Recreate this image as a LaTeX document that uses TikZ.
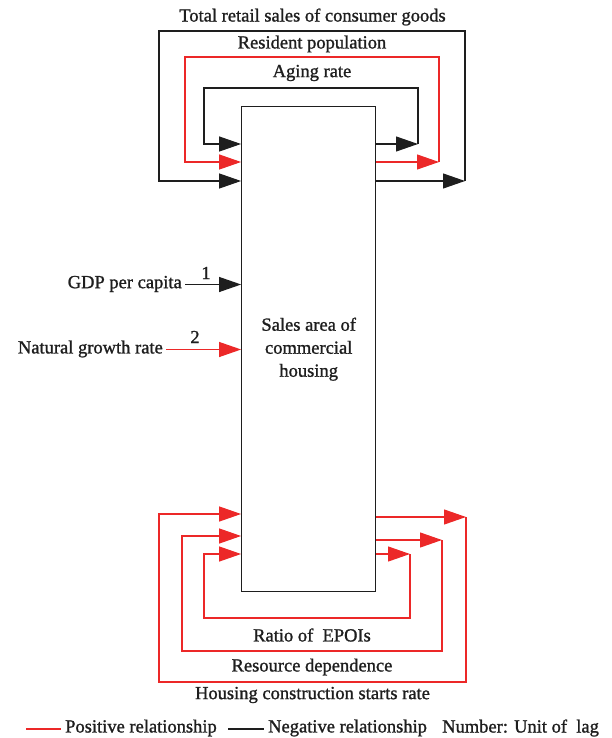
\documentclass[tikz,border=0pt]{standalone}
\usepackage{fontspec}
\setmainfont{Liberation Serif}[FakeBold=1.2]
\usetikzlibrary{arrows.meta}
\definecolor{posred}{RGB}{236,40,40}
\definecolor{negblk}{RGB}{30,30,30}
\begin{document}
\begin{tikzpicture}[x=1pt,y=-1pt,
  posln/.style={draw=posred,line width=1.1pt},
  negln/.style={draw=negblk,line width=1.1pt},
  tipr/.style={-{Triangle[length=22pt,width=15pt,fill=posred]}},
  tipb/.style={-{Triangle[length=22pt,width=15pt,fill=negblk]}},
  lbl/.style={font=\fontsize{18.5}{23}\selectfont,inner sep=0pt,text=negblk}]
\useasboundingbox (0,0) rectangle (612,738);
% central box
\node[draw=negblk,line width=1.2pt,minimum width=134pt,minimum height=485pt,align=center,lbl] (box) at (308.7,349.2) {Sales area of\\commercial\\housing};

% ---------- top loops ----------
\coordinate (tOR) at (465,181); \coordinate (tOL) at (159,181);
\coordinate (tOTR) at (465,31); \coordinate (tOTL) at (159,31);
\coordinate (tMR) at (439,162); \coordinate (tML) at (185,162);
\coordinate (tMTR) at (439,57); \coordinate (tMTL) at (185,57);
\coordinate (tIR) at (418,144); \coordinate (tIL) at (204,144);
\coordinate (tITR) at (418,88); \coordinate (tITL) at (204,88);

\draw[negln,tipb] (box.east |- tOR) -- (tOR);
\draw[negln,tipb] (tOR) -- (tOTR) -- (tOTL) -- (tOL) -- (box.west |- tOL);
\draw[posln,tipr] (box.east |- tMR) -- (tMR);
\draw[posln,tipr] (tMR) -- (tMTR) -- (tMTL) -- (tML) -- (box.west |- tML);
\draw[negln,tipb] (box.east |- tIR) -- (tIR);
\draw[negln,tipb] (tIR) -- (tITR) -- (tITL) -- (tIL) -- (box.west |- tIL);

\node[lbl] (ltot) at (312.5,17) {Total retail sales of consumer goods};
\node[lbl] (lres) at (312,44) {Resident population};
\node[lbl] (lage) at (312,73) {Aging rate};

% ---------- bottom loops ----------
\coordinate (bOR) at (466,517); \coordinate (bOL) at (159,514);
\coordinate (bOBR) at (466,682); \coordinate (bOBL) at (159,682);
\coordinate (bMR) at (442,540); \coordinate (bML) at (182,536);
\coordinate (bMBR) at (442,651); \coordinate (bMBL) at (182,651);
\coordinate (bIR) at (410,554); \coordinate (bIL) at (204,554);
\coordinate (bIBR) at (410,618); \coordinate (bIBL) at (204,618);

\draw[posln,tipr] (box.east |- bOR) -- (bOR);
\draw[posln,tipr] (bOR) -- (bOBR) -- (bOBL) -- (bOL) -- (box.west |- bOL);
\draw[posln,tipr] (box.east |- bMR) -- (bMR);
\draw[posln,tipr] (bMR) -- (bMBR) -- (bMBL) -- (bML) -- (box.west |- bML);
\draw[posln,tipr] (box.east |- bIR) -- (bIR);
\draw[posln,tipr] (bIR) -- (bIBR) -- (bIBL) -- (bIL) -- (box.west |- bIL);

\node[lbl] (lrat) at (312,635) {Ratio of \ EPOIs};
\node[lbl] (lrsd) at (312,667) {Resource dependence};
\node[lbl] (lhou) at (312.5,695) {Housing construction starts rate};

% ---------- left inputs ----------
\node[lbl,anchor=east] (gdp) at (182,284) {GDP per capita};
\coordinate (gdpS) at (185,284.5);
\draw[negln,tipb] (gdpS) -- (box.west |- gdpS);
\node[lbl] (n1) at (206,273) {1};

\node[lbl,anchor=east] (ngr) at (163,349) {Natural growth rate};
\coordinate (ngrS) at (166,349.5);
\draw[posln,tipr] (ngrS) -- (box.west |- ngrS);
\node[lbl] (n2) at (195,337) {2};

% ---------- legend ----------
\coordinate (lg1a) at (26,729); \coordinate (lg1b) at (61,729);
\draw[posred,line width=1.6pt] (lg1a) -- (lg1b);
\node[lbl,anchor=west] (lgp) at (65,728) {Positive relationship};
\coordinate (lg2a) at (228,729); \coordinate (lg2b) at (264,729);
\draw[negblk,line width=1.1pt] (lg2a) -- (lg2b);
\node[lbl,anchor=west] (lgn) at (268,728) {Negative relationship};
\node[lbl,anchor=west] (lgu) at (442,728) {Number: Unit of \ lag};
\end{tikzpicture}
\end{document}
